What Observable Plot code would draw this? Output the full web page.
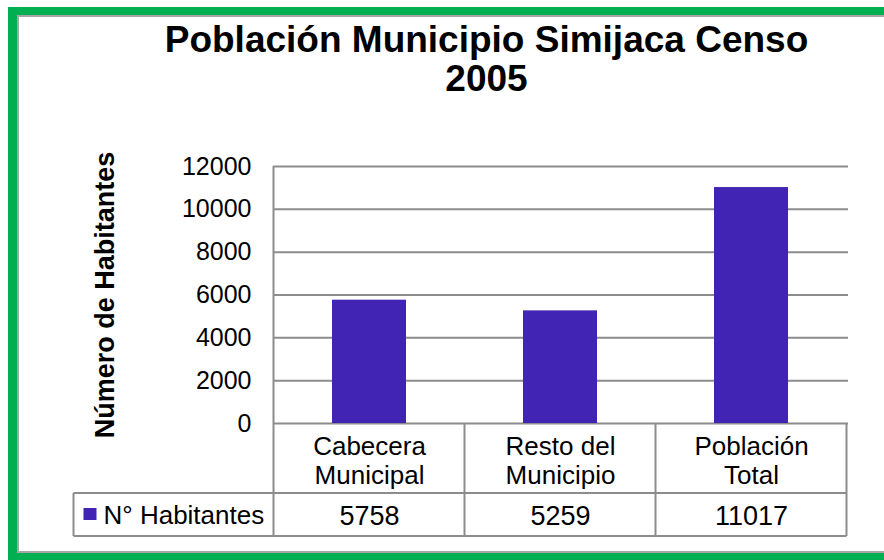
<!DOCTYPE html>
<html>
<head>
<meta charset="utf-8">
<script src="https://cdn.jsdelivr.net/npm/d3@7"></script>
<script src="https://cdn.jsdelivr.net/npm/@observablehq/plot@0.6"></script>
<style>
  html, body { margin: 0; padding: 0; background: #fff; overflow: hidden; }
  #wrap { position: relative; width: 884px; height: 560px; overflow: hidden; background: #fff; font-family: "Liberation Sans", Arial, sans-serif; }
  .bar { position: absolute; }
  #title { position: absolute; left: 0; top: 20px; width: 795px; padding-left: 89px; text-align: center; font-weight: bold; font-size: 37px; line-height: 39px; color: #000; white-space: nowrap; }
  #chart { position: absolute; left: 0; top: 0; width: 884px; height: 560px; overflow: hidden; }
</style>
</head>
<body>
<div id="wrap">
  <div class="bar" style="left:8px; top:7px; width:876px; height:8px; background:#00b050"></div>
  <div class="bar" style="left:8px; top:7px; width:9px; height:553px; background:#00b050"></div>
  <div class="bar" style="left:8px; top:553px; width:876px; height:7px; background:#00b050"></div>
  <div class="bar" style="left:17px; top:15px; width:867px; height:2px; background:#a6a6a6"></div>
  <div class="bar" style="left:17px; top:15px; width:2px; height:538px; background:#a6a6a6"></div>
  <div class="bar" style="left:17px; top:551px; width:867px; height:2px; background:#a6a6a6"></div>
  <div id="chart"></div>
  <div id="title"></div>
</div>
<script>
const titleLines = ["Población Municipio Simijaca Censo", "2005"];
const yLabel = "Número de Habitantes";
const seriesName = "N° Habitantes";
const categories = ["Cabecera\nMunicipal", "Resto del\nMunicipio", "Población\nTotal"];
const habitantes = [5758, 5259, 11017];
const yTicks = [0, 2000, 4000, 6000, 8000, 10000, 12000];

const barColor = "#4224b4";
const lineColor = "#8c8c8c";

document.getElementById("title").innerHTML = titleLines.join("<br>");

const data = categories.map((c, i) => ({cat: c, value: habitantes[i]}));

const W = 884, H = 560, mT = 166, mB = 137, mL = 273, mR = 36;

const plot = Plot.plot({
  width: W, height: H,
  marginTop: mT, marginBottom: mB, marginLeft: mL, marginRight: mR,
  x: {domain: categories, paddingInner: 0.61, paddingOuter: 0.305, axis: null},
  y: {domain: [0, 12000]},
  style: {fontFamily: '"Liberation Sans", Arial, sans-serif', background: "transparent", color: "#000"},
  marks: [
    Plot.ruleY(yTicks, {stroke: lineColor, strokeWidth: 2}),
    Plot.barY(data, {x: "cat", y: "value", fill: barColor}),
    Plot.axisY({ticks: yTicks, tickSize: 0, tickPadding: 22, fontSize: 25, label: null, tickFormat: d => String(d)}),
    Plot.text([yLabel], {frameAnchor: "left", rotate: -90, dx: -168, textAnchor: "middle", fontWeight: "bold", fontSize: 27}),
    Plot.text(data, {x: "cat", text: "cat", frameAnchor: "bottom", lineAnchor: "top", dy: 11, fontSize: 26, lineHeight: 1.115}),
    Plot.text(data, {x: "cat", text: d => String(d.value), frameAnchor: "bottom", lineAnchor: "top", dy: 82, fontSize: 27}),
    Plot.text([seriesName], {frameAnchor: "bottom-left", textAnchor: "start", lineAnchor: "top", dx: -170, dy: 82, fontSize: 26})
  ]
});

document.getElementById("chart").appendChild(plot);

// data table grid and legend key, positioned from Plot's own x scale
const sx = plot.scale("x");
const step = sx.step, bw = sx.bandwidth;
const centers = categories.map(c => sx.apply(c) + bw / 2);
const colLeft = centers[0] - step / 2;
const colRights = centers.map(c => c + step / 2);
const right = colRights[colRights.length - 1];
const y0 = H - mB;
const row1 = y0 + 70, row2 = y0 + 113;
const tableLeft = colLeft - 200;

const svg = d3.select(plot);
const g = svg.append("g").attr("stroke", lineColor).attr("stroke-width", 2).attr("fill", "none");
g.append("line").attr("x1", tableLeft).attr("x2", right).attr("y1", row1).attr("y2", row1);
g.append("line").attr("x1", tableLeft).attr("x2", right).attr("y1", row2).attr("y2", row2);
g.append("line").attr("x1", tableLeft).attr("x2", tableLeft).attr("y1", row1).attr("y2", row2);
g.append("line").attr("x1", colLeft).attr("x2", colLeft).attr("y1", mT).attr("y2", row2);
colRights.forEach(x => g.append("line").attr("x1", x).attr("x2", x).attr("y1", y0).attr("y2", row2));

svg.append("rect").attr("x", tableLeft + 10).attr("y", row1 + 15).attr("width", 13).attr("height", 12).attr("fill", barColor);
</script>
</body>
</html>
